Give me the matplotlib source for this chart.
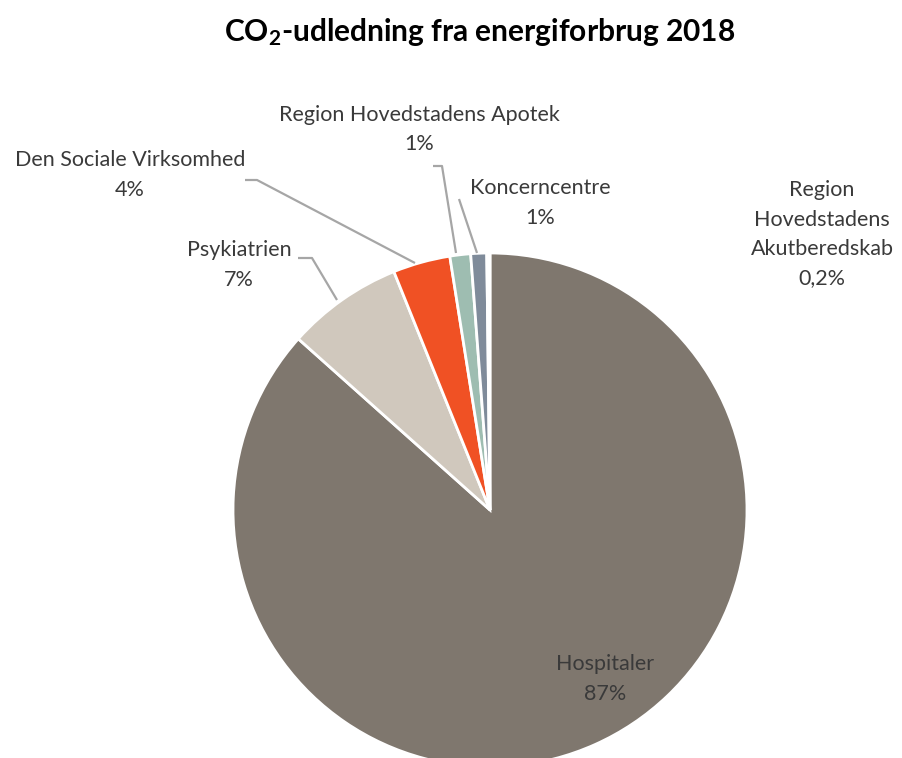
import matplotlib.pyplot as plt

# data
categories = ['Hospitaler', 'Psykiatrien', 'Den Sociale Virksomhed',
              'Region Hovedstadens Apotek', 'Koncerncentre',
              'Region\nHovedstadens\nAkutberedskab']
values = [86.6, 7.3, 3.6, 1.3, 1.0, 0.2]
colors = ['#7f776e', '#d0c8bd', '#f05124', '#9ebdb1', '#7f8b9a', '#ffffff']


def fmt_pct(v):
    if v < 1:
        return f'{v:.1f}%'.replace('.', ',')
    return f'{v:.0f}%'


W, H = 902, 758
fig = plt.figure(figsize=(W / 100, H / 100), dpi=100)
ax = fig.add_axes([0, 0, 1, 1])

# pie, in pixel units (y from bottom)
cx, cy, r = 490, H - 510, 257
ax.pie(values, colors=colors, startangle=90, counterclock=False,
       center=(cx, cy), radius=r, frame=True,
       wedgeprops=dict(edgecolor='white', linewidth=2))
ax.set_xlim(0, W)
ax.set_ylim(0, H)
ax.set_aspect('equal')
ax.axis('off')

plt.rcParams['font.family'] = ['Lato', 'DejaVu Sans']
plt.rcParams['mathtext.fontset'] = 'custom'
plt.rcParams['mathtext.rm'] = 'Lato:bold'
plt.rcParams['mathtext.it'] = 'Lato:bold'
plt.rcParams['mathtext.bf'] = 'Lato:bold'

# labels: (x, y from top of first line)
label_pos = [(605, 664), (239, 250), (130, 160), (419, 115), (540, 188), (822, 190)]
txt_color = '#3a3a3a'
for cat, v, (x, y) in zip(categories, values, label_pos):
    lines = cat.split('\n') + [fmt_pct(v)]
    for i, line in enumerate(lines):
        ax.text(x, H - (y + i * 29.5), line, ha='center', va='center',
                fontsize=15.5, color=txt_color)

# leader lines
leaders = [
    [(298, 258), (312, 258), (337, 300)],
    [(245, 180), (257, 180), (415, 263)],
    [(433, 166), (442, 166), (456, 253)],
    [(459, 199), (477, 253)],
]
for pts in leaders:
    xs = [p[0] for p in pts]
    ys = [H - p[1] for p in pts]
    ax.plot(xs, ys, color='#a6a6a6', lw=1.6, solid_capstyle='butt')

ax.text(480, H - 32, r'CO$_\mathrm{2}$-udledning fra energiforbrug 2018', ha='center',
        va='center', fontsize=21.5, fontweight='bold', color='black')

fig.savefig('out.png', dpi=100)
